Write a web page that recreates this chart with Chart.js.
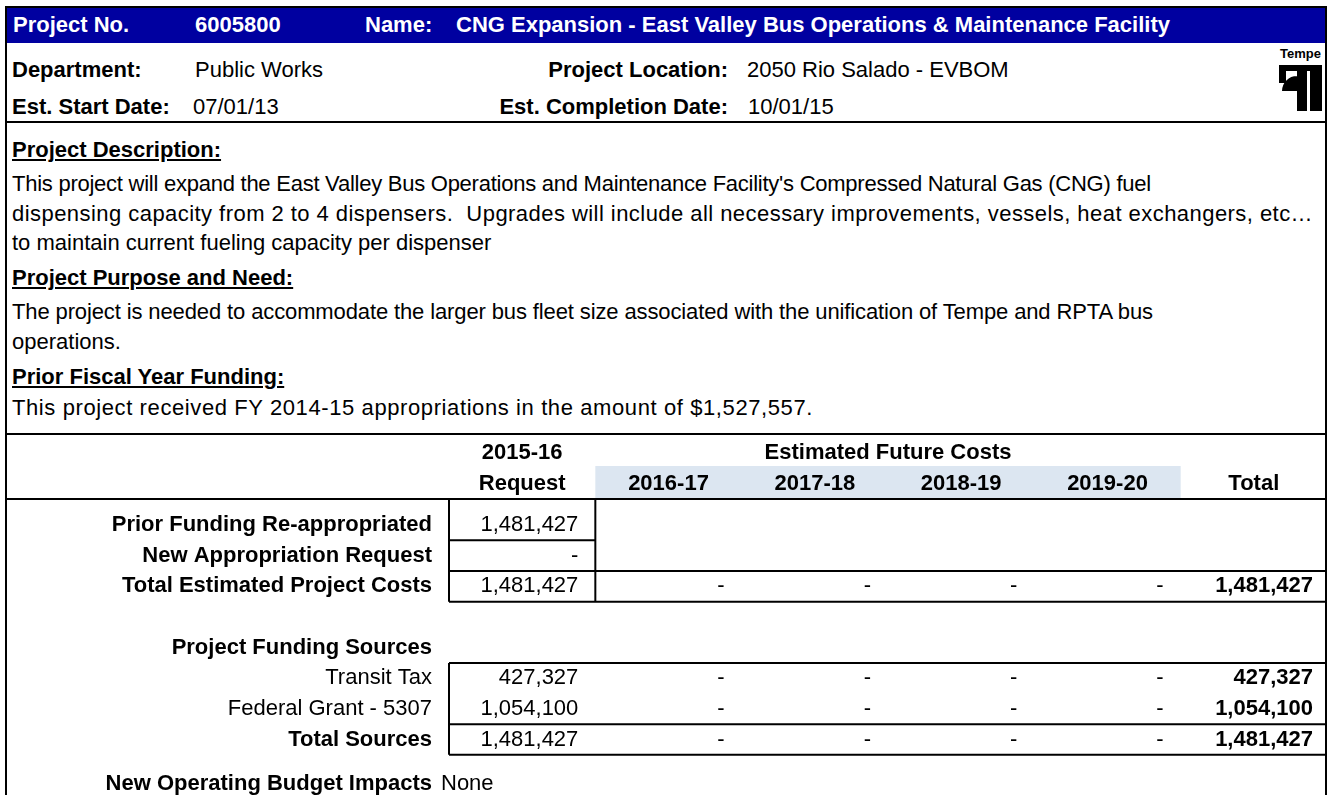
<!DOCTYPE html>
<html>
<head>
<meta charset="utf-8">
<title>CNG Expansion - East Valley Bus Operations & Maintenance Facility</title>
<script src="https://cdn.jsdelivr.net/npm/chart.js@4.4.1/dist/chart.umd.min.js"></script>
<style>
  body { margin: 0; background: #fff; }
  #page { position: relative; width: 1330px; height: 795px; overflow: hidden;
    font-family: "Liberation Sans", Arial, sans-serif; font-size: 22px; color: #000; }
  .t { position: absolute; white-space: pre; line-height: 26px; height: 26px; }
  .b { font-weight: bold; }
  .u { text-decoration: underline; }
  .w { color: #fff; }
  #frame { position: absolute; left: 5px; top: 6px; width: 1322px; height: 820px;
    box-sizing: border-box; border: 2px solid #000; }
  #bar { position: absolute; left: 7px; top: 8px; width: 1318px; height: 35px; background: #0000a0; }
  .rule { position: absolute; left: 5px; width: 1322px; height: 2px; background: #000; }
  #grid { position: absolute; left: 5px; top: 433px; }
</style>
</head>
<body>
<div id="page">
  <div id="frame"></div>
  <div id="bar"></div>

  <div class="t b w" style="left:13px;top:12px">Project No.</div>
  <div class="t b w" style="left:195px;top:12px">6005800</div>
  <div class="t b w" style="left:365px;top:12px">Name:</div>
  <div class="t b w" style="left:456px;top:12px">CNG Expansion - East Valley Bus Operations &amp; Maintenance Facility</div>

  <div class="t b" style="left:12px;top:57px">Department:</div>
  <div class="t" style="left:195px;top:57px">Public Works</div>
  <div class="t b" style="right:602px;top:57px">Project Location:</div>
  <div class="t" style="left:747px;top:57px">2050 Rio Salado - EVBOM</div>

  <div class="t b" style="left:12px;top:94px">Est. Start Date:</div>
  <div class="t" style="left:193px;top:94px">07/01/13</div>
  <div class="t b" style="right:602px;top:94px">Est. Completion Date:</div>
  <div class="t" style="left:748px;top:94px">10/01/15</div>

  <div class="t b" style="right:9px;top:41px;font-size:13px">Tempe</div>
  <svg style="position:absolute;left:1277px;top:64px" width="46" height="47" viewBox="0 0 46 47">
    <rect x="2" y="1" width="43" height="6" fill="#000"/>
    <rect x="2" y="1" width="7" height="18" fill="#000"/>
    <path d="M20 10 L20 27 L5 27 A15 15 0 0 1 20 12 Z" fill="#000"/>
    <rect x="20" y="1" width="10" height="46" fill="#000"/>
    <rect x="33" y="1" width="12" height="46" fill="#000"/>
  </svg>

  <div class="rule" style="top:121px"></div>

  <div class="t b u" style="left:12px;top:137px">Project Description:</div>
  <div class="t" style="left:12px;top:171px;letter-spacing:-0.25px">This project will expand the East Valley Bus Operations and Maintenance Facility's Compressed Natural Gas (CNG) fuel</div>
  <div class="t" style="left:12px;top:201px;letter-spacing:0.45px">dispensing capacity from 2 to 4 dispensers.  Upgrades will include all necessary improvements, vessels, heat exchangers, etc…</div>
  <div class="t" style="left:12px;top:230px">to maintain current fueling capacity per dispenser</div>

  <div class="t b u" style="left:12px;top:265px">Project Purpose and Need:</div>
  <div class="t" style="left:12px;top:299px;letter-spacing:-0.12px">The project is needed to accommodate the larger bus fleet size associated with the unification of Tempe and RPTA bus</div>
  <div class="t" style="left:12px;top:329px">operations.</div>

  <div class="t b u" style="left:12px;top:364px">Prior Fiscal Year Funding:</div>
  <div class="t" style="left:12px;top:395px;letter-spacing:0.6px">This project received FY 2014-15 appropriations in the amount of $1,527,557.</div>

  <canvas id="grid" width="1322" height="352"></canvas>

  <div class="t b" style="right:898px;top:770px">New Operating Budget Impacts</div>
  <div class="t" style="left:441px;top:770px">None</div>
</div>

<script>
// budget table data
const columns = ['2015-16', '2016-17', '2017-18', '2018-19', '2019-20', 'Total'];
const rowLabels = ['Prior Funding Re-appropriated', 'New Appropriation Request', 'Total Estimated Project Costs', '',
  'Project Funding Sources', 'Transit Tax', 'Federal Grant - 5307', 'Total Sources'];
const priorFunding = [1481427, null, null, null, null, null];
const newAppropriation = [0, null, null, null, null, null];
const totalEstimated = [1481427, 0, 0, 0, 0, 1481427];
const transitTax = [427327, 0, 0, 0, 0, 427327];
const federalGrant = [1054100, 0, 0, 0, 0, 1054100];
const totalSources = [1481427, 0, 0, 0, 0, 1481427];

const FONT = '"Liberation Sans", Arial, sans-serif';
const boldRows = new Set([0, 1, 2, 4, 7]);

const rows = [[0, priorFunding], [1, newAppropriation], [2, totalEstimated],
  [5, transitTax], [6, federalGrant], [7, totalSources]];

const datasets = rows.map(([r, vals]) => ({
  label: rowLabels[r],
  data: vals.map((v, i) => v === null ? null : { x: columns[i], y: r, v: v }).filter(p => p),
  pointRadius: 0
}));

const fmt = v => v === 0 ? '-' : v.toLocaleString('en-US');

const sheet = {
  id: 'sheet',
  beforeDatasetsDraw(chart) {
    const { ctx, chartArea: a, scales: { x } } = chart;
    const cw = x.width / columns.length;
    const left = i => x.getPixelForValue(i) - cw / 2;
    const right = i => x.getPixelForValue(i) + cw / 2;
    ctx.save();
    ctx.fillStyle = '#dce6f1';
    ctx.fillRect(left(1), a.top - 33, right(4) - left(1), 32);
    ctx.fillStyle = '#000';
    ctx.font = 'bold 22px ' + FONT;
    ctx.textBaseline = 'middle';
    ctx.textAlign = 'center';
    ctx.fillText(columns[0], x.getPixelForValue(0), a.top - 46);
    ctx.fillText('Request', x.getPixelForValue(0), a.top - 15);
    for (let i = 1; i < columns.length; i++) ctx.fillText(columns[i], x.getPixelForValue(i), a.top - 15);
    ctx.fillText('Estimated Future Costs', (left(1) + right(4)) / 2, a.top - 46);
    ctx.restore();
  },
  afterDatasetsDraw(chart) {
    const { ctx, chartArea: a, scales: { x, y } } = chart;
    const cw = x.width / columns.length;
    const left = i => x.getPixelForValue(i) - cw / 2;
    const right = i => x.getPixelForValue(i) + cw / 2;
    const yb = v => y.getPixelForValue(v);
    const W = chart.width;
    ctx.save();
    ctx.strokeStyle = '#000';
    ctx.lineWidth = 2;
    const hline = (x0, x1, yy) => { ctx.beginPath(); ctx.moveTo(x0, yy); ctx.lineTo(x1, yy); ctx.stroke(); };
    const vline = (xx, y0, y1) => { ctx.beginPath(); ctx.moveTo(xx, y0); ctx.lineTo(xx, y1); ctx.stroke(); };
    hline(0, W, 1);
    hline(0, W, a.top);
    // request boxes
    vline(left(0), a.top, yb(2.5));
    vline(right(0), a.top, yb(2.5));
    hline(left(0), right(0), yb(0.5));
    hline(left(0), W, yb(1.5));
    hline(left(0), W, yb(2.5));
    // funding sources box
    vline(left(0), yb(4.5), yb(7.5));
    hline(left(0), W, yb(4.5));
    hline(left(0), W, yb(6.5));
    hline(left(0), W, yb(7.5));

    ctx.fillStyle = '#000';
    ctx.textBaseline = 'middle';
    ctx.textAlign = 'right';
    chart.data.datasets.forEach((ds, d) => {
      chart.getDatasetMeta(d).data.forEach((pt, j) => {
        const p = ds.data[j];
        const isTotal = p.x === 'Total';
        ctx.font = (isTotal ? 'bold ' : '') + '22px ' + FONT;
        ctx.fillText(fmt(p.v), pt.x + cw / 2 - (isTotal ? 14 : 17), pt.y);
      });
    });
    ctx.restore();
  }
};

new Chart(document.getElementById('grid'), {
  type: 'scatter',
  data: { datasets },
  options: {
    responsive: false,
    devicePixelRatio: 1,
    animation: false,
    layout: { padding: 0 },
    plugins: { legend: { display: false }, tooltip: { enabled: false } },
    scales: {
      x: {
        type: 'category', labels: columns, offset: true, position: 'top',
        afterFit: s => { s.height = 66; },
        grid: { display: false, drawTicks: false }, border: { display: false },
        ticks: { display: false }
      },
      y: {
        type: 'linear', reverse: true, min: -0.85, max: 7.5,
        afterFit: s => { s.width = 444; },
        afterBuildTicks: s => { s.ticks = rowLabels.map((_, i) => ({ value: i })); },
        grid: { display: false, drawTicks: false }, border: { display: false },
        ticks: {
          padding: 17, color: '#000',
          callback: v => rowLabels[v] ?? '',
          font: c => ({ family: FONT, size: 22, weight: c.tick && boldRows.has(c.tick.value) ? 'bold' : 'normal' })
        }
      }
    }
  },
  plugins: [sheet]
});
</script>
</body>
</html>
